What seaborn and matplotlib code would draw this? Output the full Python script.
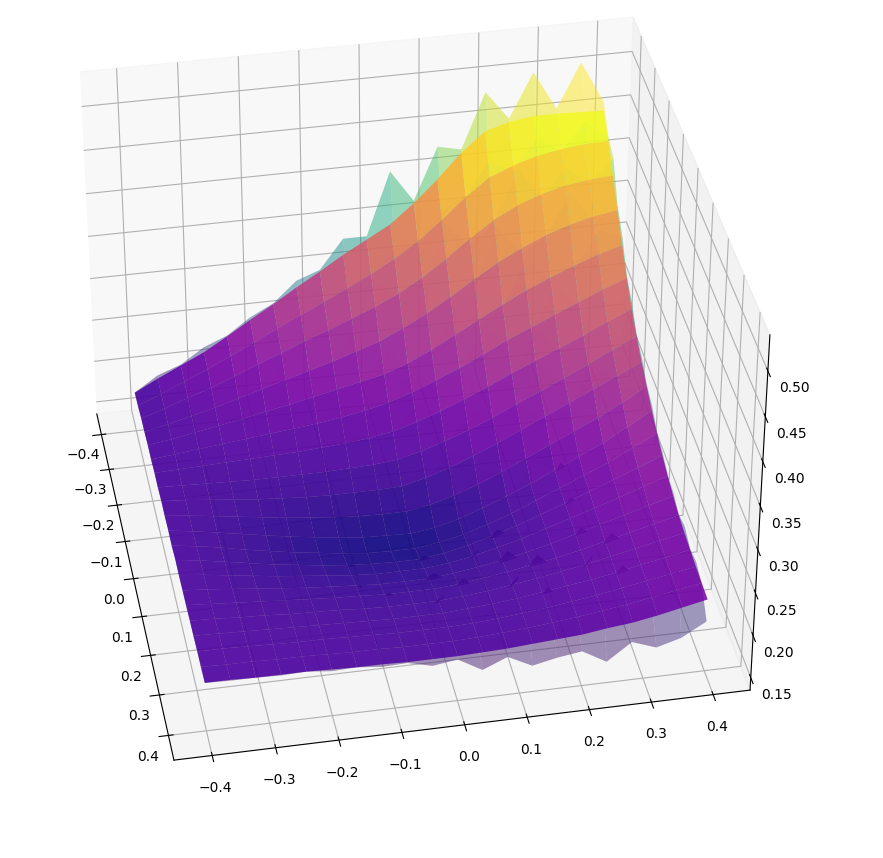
import numpy as np
import matplotlib
matplotlib.use('Agg')
import matplotlib.pyplot as plt
import seaborn as sns

x_vals = [-.4, -.36, -.32, -.28, -.24, -.2, -.16, -.12, -.08, -.04, 0, .04, .08, .12, .16, .2, .24, .28, .32, .36, .4]
y_vals = [-.4, -.36, -.32, -.28, -.24, -.2, -.16, -.12, -.08, -.04, 0, .04, .08, .12, .16, .2, .24, .28, .32, .36, .4]
tick_vals = [-.4, -.3, -.2, -.1, 0, .1, .2, .3, .4]
# thousandths, rows follow x (back to front), columns follow y (left to right)
smooth_z = [
    [194, 208, 221, 234, 250, 267, 283, 300, 316, 333, 348, 363, 385, 410, 438, 460, 468, 472, 472, 471, 470],
    [195, 206, 218, 230, 243, 256, 270, 283, 296, 309, 323, 338, 356, 378, 402, 422, 433, 441, 446, 449, 450],
    [196, 205, 215, 224, 235, 246, 257, 268, 278, 289, 300, 313, 329, 348, 369, 388, 402, 412, 419, 423, 425],
    [197, 203, 210, 217, 225, 233, 241, 249, 257, 266, 275, 288, 302, 319, 337, 354, 368, 380, 389, 396, 400],
    [198, 202, 207, 212, 217, 223, 228, 234, 240, 246, 252, 262, 275, 290, 305, 320, 334, 346, 357, 367, 375],
    [198, 201, 204, 207, 210, 213, 216, 219, 223, 228, 235, 244, 255, 267, 280, 294, 306, 318, 330, 342, 352],
    [199, 200, 201, 202, 203, 204, 205, 207, 209, 212, 217, 225, 235, 246, 258, 271, 283, 295, 307, 320, 332],
    [199, 198, 197, 196, 195, 195, 195, 195, 196, 197, 200, 207, 216, 226, 238, 251, 263, 276, 289, 303, 316],
    [200, 198, 195, 192, 189, 187, 185, 184, 184, 184, 185, 192, 201, 212, 224, 237, 250, 263, 276, 289, 302],
    [200, 197, 193, 189, 185, 181, 178, 175, 173, 172, 172, 177, 185, 195, 207, 220, 233, 246, 259, 274, 290],
    [200, 196, 191, 186, 181, 176, 172, 168, 165, 164, 163, 167, 174, 184, 195, 207, 220, 233, 246, 262, 278],
    [200, 196, 191, 185, 180, 175, 171, 167, 164, 163, 163, 167, 173, 182, 192, 204, 216, 228, 240, 254, 268],
    [201, 197, 192, 187, 182, 178, 174, 171, 169, 168, 168, 172, 178, 186, 195, 205, 215, 226, 237, 248, 259],
    [201, 198, 194, 190, 186, 183, 180, 177, 175, 175, 175, 178, 183, 190, 197, 206, 215, 224, 233, 243, 252],
    [201, 199, 196, 193, 190, 187, 185, 183, 181, 181, 181, 184, 188, 193, 199, 206, 214, 222, 230, 238, 246],
    [202, 200, 198, 196, 194, 192, 190, 189, 187, 187, 187, 189, 193, 197, 202, 207, 213, 220, 227, 234, 241],
    [202, 201, 199, 198, 196, 195, 194, 192, 191, 191, 191, 193, 196, 200, 204, 209, 214, 220, 226, 232, 238],
    [203, 202, 201, 200, 199, 198, 197, 196, 195, 195, 195, 197, 199, 202, 206, 210, 214, 219, 225, 230, 236],
    [203, 203, 202, 201, 200, 200, 199, 198, 197, 197, 197, 198, 200, 203, 206, 210, 214, 219, 224, 229, 234],
    [204, 203, 203, 202, 202, 201, 200, 200, 199, 199, 199, 200, 202, 204, 207, 210, 214, 218, 223, 228, 233],
    [204, 204, 203, 203, 203, 202, 201, 201, 200, 200, 200, 201, 202, 204, 206, 208, 212, 215, 220, 226, 232],
]
noisy_z = [
    [194, 212, 222, 240, 251, 270, 284, 308, 318, 352, 352, 425, 388, 448, 442, 505, 472, 522, 478, 528, 480],
    [193, 208, 214, 236, 241, 262, 268, 295, 292, 318, 320, 352, 352, 390, 404, 440, 428, 462, 444, 474, 455],
    [198, 203, 219, 221, 237, 250, 254, 271, 290, 284, 330, 308, 326, 386, 362, 384, 445, 408, 440, 420, 445],
    [196, 205, 208, 223, 222, 232, 262, 246, 252, 302, 270, 284, 340, 312, 332, 392, 362, 378, 428, 390, 405],
    [199, 201, 209, 210, 226, 221, 226, 252, 236, 244, 284, 258, 272, 324, 298, 316, 372, 342, 354, 396, 385],
    [197, 204, 202, 206, 218, 211, 222, 216, 244, 224, 233, 272, 250, 264, 316, 288, 304, 354, 326, 340, 354],
    [200, 198, 210, 200, 203, 214, 203, 205, 226, 208, 215, 248, 231, 276, 254, 268, 322, 292, 304, 340, 340],
    [198, 200, 195, 206, 208, 192, 194, 210, 194, 196, 218, 204, 212, 250, 234, 248, 296, 272, 286, 320, 318],
    [201, 196, 198, 200, 187, 185, 198, 183, 182, 198, 183, 189, 222, 208, 222, 268, 248, 258, 306, 286, 308],
    [199, 206, 191, 187, 198, 179, 177, 188, 172, 170, 186, 175, 182, 216, 204, 218, 262, 242, 256, 290, 292],
    [202, 194, 190, 198, 179, 175, 184, 166, 164, 176, 162, 165, 190, 181, 193, 232, 218, 230, 274, 259, 284],
    [198, 204, 189, 184, 190, 173, 170, 178, 162, 161, 176, 165, 171, 202, 189, 202, 246, 225, 238, 270, 269],
    [203, 195, 191, 198, 180, 177, 186, 169, 167, 180, 166, 170, 196, 183, 193, 228, 213, 224, 266, 245, 263],
    [200, 206, 192, 189, 198, 181, 178, 190, 173, 174, 190, 176, 181, 212, 195, 204, 240, 221, 231, 262, 253],
    [202, 197, 195, 204, 188, 186, 197, 181, 179, 196, 179, 182, 208, 190, 197, 230, 212, 219, 258, 235, 250],
    [200, 208, 196, 195, 206, 190, 188, 202, 185, 186, 206, 187, 191, 222, 200, 205, 240, 217, 225, 256, 242],
    [203, 199, 208, 196, 195, 208, 192, 191, 208, 189, 189, 214, 194, 198, 232, 207, 212, 248, 224, 230, 246],
    [201, 207, 199, 199, 212, 196, 195, 212, 193, 194, 216, 194, 197, 228, 203, 208, 242, 217, 223, 252, 237],
    [204, 201, 210, 198, 199, 210, 196, 196, 212, 193, 195, 214, 196, 200, 230, 206, 210, 246, 219, 226, 240],
    [202, 206, 201, 200, 210, 198, 198, 214, 196, 197, 216, 194, 198, 226, 200, 206, 236, 210, 216, 250, 232],
    [204, 203, 203, 202, 203, 200, 201, 198, 199, 192, 196, 180, 192, 178, 184, 188, 172, 192, 182, 190, 206],
]
# the readings above came out about 0.012 high against the z ticks
z_correction = 0.012

X, Y = np.meshgrid(x_vals, y_vals, indexing='ij')
fig = plt.figure(figsize=(8.83, 8.58), dpi=100)
ax = fig.add_axes([-0.048, 0.047, 1, 1], projection='3d')
ax.plot_surface(X, Y, np.array(noisy_z) / 1000 - z_correction, rstride=1, cstride=1,
                cmap=sns.color_palette('viridis', as_cmap=True), alpha=0.5, linewidth=0)
ax.plot_surface(X, Y, np.array(smooth_z) / 1000 - z_correction, rstride=1, cstride=1,
                cmap=sns.color_palette('plasma', as_cmap=True), alpha=0.85, linewidth=0)
ax.set_xlim(-.46, .46)
ax.set_ylim(-.46, .46)
ax.set_zlim(0.135, 0.539)
ax.set_xticks(tick_vals)
ax.set_yticks(tick_vals)
ax.view_init(elev=36, azim=-10.6)
ax.set_box_aspect(None, zoom=1.04)
fig.savefig('out.png', dpi=100)
